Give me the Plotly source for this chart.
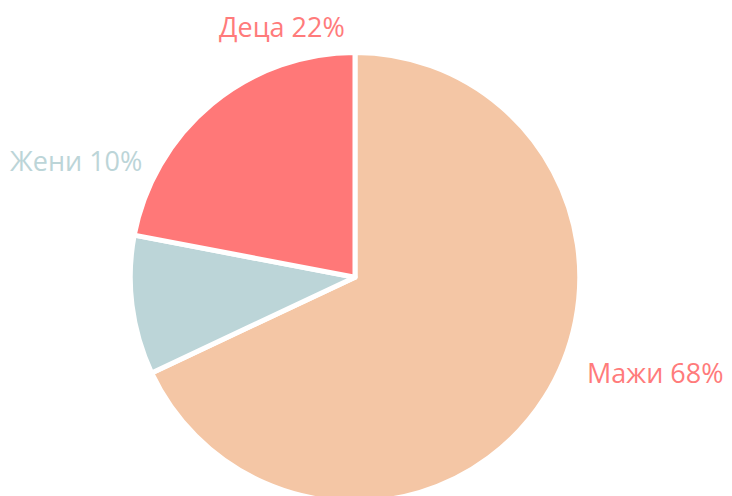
import plotly.graph_objects as go

labels = ["Мажи", "Жени", "Деца"]
values = [68, 10, 22]
colors = ["#f4c6a5", "#bcd5d8", "#ff7878"]
label_colors = ["#ff7b7b", "#bcd5d8", "#ff7b7b"]
# label anchor positions (pixels in the 732x496 view)
label_px = [(655, 372), (76, 161), (282, 27)]

W, H = 732, 502  # figure slightly taller than the view; bottom of pie is clipped

fig = go.Figure(go.Pie(
    labels=labels,
    values=values,
    sort=False,
    direction="clockwise",
    rotation=0,
    marker=dict(colors=colors, line=dict(color="#ffffff", width=5)),
    textinfo="none",
    hoverinfo="label+percent",
    domain=dict(x=[(355 - 225) / W, (355 + 225) / W], y=[0, 1 - 52.5 / H]),
    showlegend=False,
))

for lab, val, col, (px, py) in zip(labels, values, label_colors, label_px):
    fig.add_annotation(
        x=px / W, y=1 - py / H, xref="paper", yref="paper",
        text=f"{lab} {val}%", showarrow=False,
        font=dict(family="'Open Sans', Lato, sans-serif", size=27, color=col),
        xanchor="center", yanchor="middle",
    )

fig.update_layout(
    width=W, height=H,
    margin=dict(l=0, r=0, t=0, b=0),
    paper_bgcolor="white",
    plot_bgcolor="white",
)

fig.write_html(
    "out.html",
    config={"displayModeBar": False},
    post_script="document.body.style.margin='0';document.body.style.overflow='hidden';",
)
